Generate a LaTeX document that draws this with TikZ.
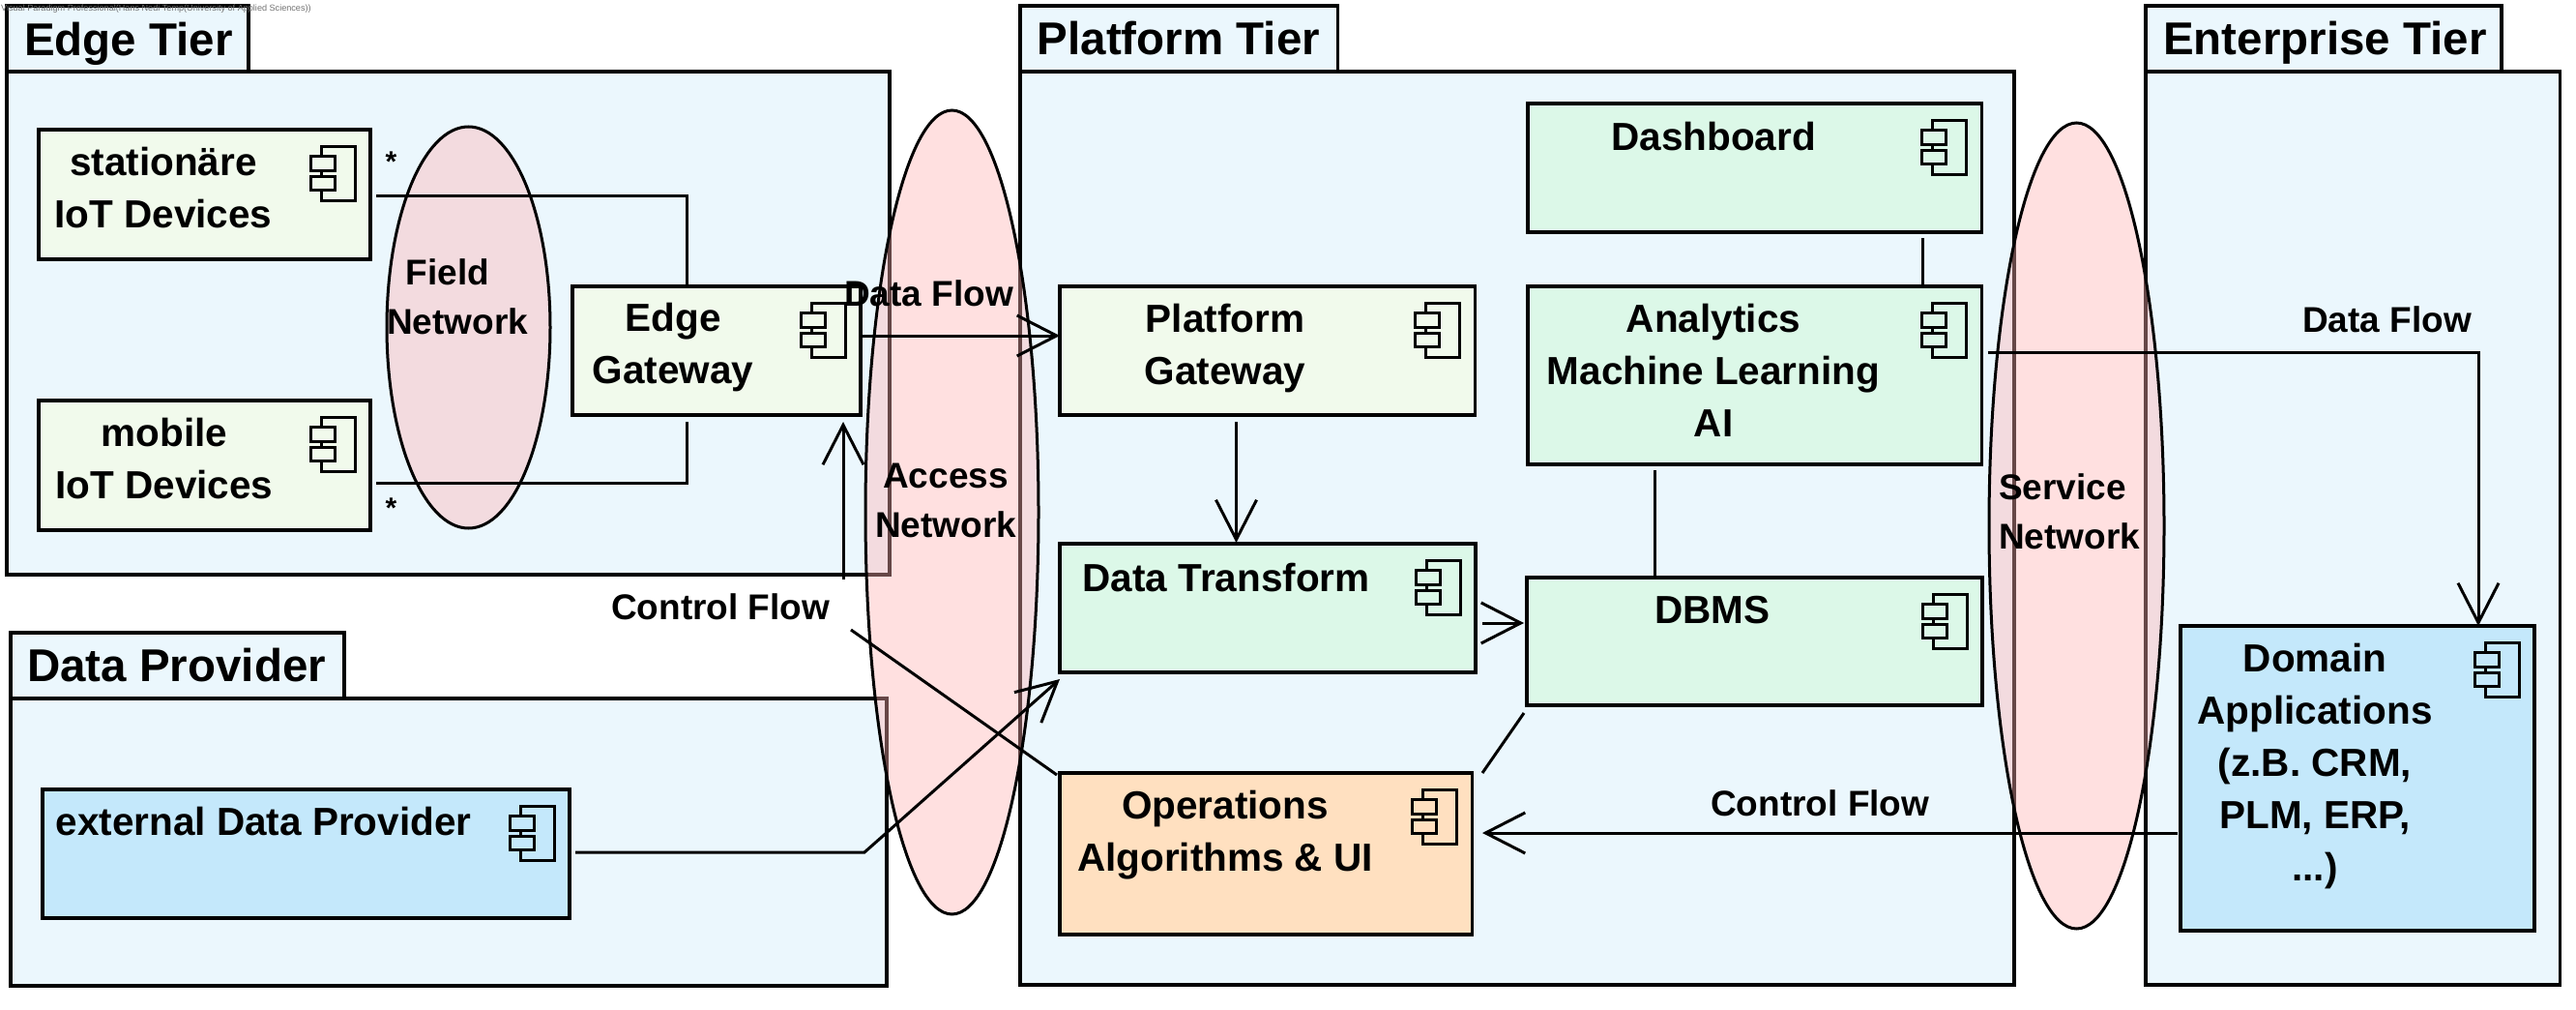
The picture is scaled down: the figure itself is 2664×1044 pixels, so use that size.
\documentclass[tikz,border=0pt]{standalone}
\usepackage{fontspec}
\setmainfont{Liberation Sans}
\usetikzlibrary{arrows.meta,shapes.geometric}
\definecolor{pkgfill}{HTML}{EBF7FD}
\definecolor{edgefill}{HTML}{F1FAEC}
\definecolor{greenfill}{HTML}{DCF8E8}
\definecolor{bluefill}{HTML}{C4E8FB}
\definecolor{orangefill}{HTML}{FFE0C0}
\definecolor{netfill}{RGB}{255,179,179}
\tikzset{
  x=1pt,y=-1pt,
  pkg/.style={draw=black,line width=3.5pt,fill=pkgfill,anchor=north west,inner sep=0pt,outer sep=0pt,minimum width=#1},
  pkg/.default=10pt,
  comp/.style={draw=black,line width=3.5pt,anchor=north west,inner sep=0pt,outer sep=0pt},
  net/.style={ellipse,draw=black,line width=3pt,fill=netfill,fill opacity=.4,draw opacity=1,inner sep=0pt,outer sep=0pt},
  ttl/.style={font=\fontsize{47.5}{54}\selectfont\bfseries,anchor=base west,inner sep=0pt},
  txt/.style={font=\fontsize{40.5}{54}\selectfont\bfseries,align=center,anchor=base,inner sep=0pt},
  lbl/.style={font=\fontsize{37}{51}\selectfont\bfseries,anchor=base west,inner sep=0pt},
  conn/.style={line width=3pt,line join=miter},
  flow/.style={conn,-{Straight Barb[length=41pt,width=42pt,line width=3pt]}},
  compicon/.pic={
    \draw[line width=3pt] (-51,27)--(-51,17)--(-16,17)--(-16,73)--(-51,73)--(-51,62)
      (-51,48)--(-51,42)
      (-62,27) rectangle (-37,42)
      (-62,48) rectangle (-37,62);
  }
}
\newcommand{\mkcomp}[6]{% name, fill, x0, y0, x1, y1
  \pgfmathsetmacro{\cw}{#5-#3}\pgfmathsetmacro{\ch}{#6-#4}
  \node[comp,fill=#2,minimum width=\cw pt,minimum height=\ch pt] (#1) at (#3,#4) {};
  \pic at (#1.north east) {compicon};
}
\newcommand{\mkpkg}[7]{% name, x0, tabright, top, bodytop, right, bottom
  \pgfmathsetmacro{\tw}{#3-#2}\pgfmathsetmacro{\th}{#5-#4}
  \pgfmathsetmacro{\bw}{#6-#2}\pgfmathsetmacro{\bh}{#7-#5}
  \node[pkg=\tw pt,minimum height=\th pt] (#1tab) at (#2,#4) {};
  \node[pkg=\bw pt,minimum height=\bh pt] (#1) at (#2,#5) {};
}
\begin{document}
\begin{tikzpicture}
\useasboundingbox (0,0) rectangle (2664,1044);
\fill[white] (0,0) rectangle (2664,1044);
% packages
\mkpkg{edgetier}{7}{257}{6}{74}{920}{594}
\mkpkg{dataprov}{11}{356}{654}{722}{917}{1019}
\mkpkg{platform}{1055}{1383.5}{6}{74}{2083}{1018}
\mkpkg{enterprise}{2219}{2587}{6}{74}{2647.5}{1018}
% networks
\node[net,minimum width=169pt,minimum height=415pt] (fieldnet) at (484.5,338.5) {};
\node[net,minimum width=179pt,minimum height=831pt] (accessnet) at (984.5,529.5) {};
\node[net,minimum width=181pt,minimum height=833pt] (servicenet) at (2147.5,543.5) {};
% components
\mkcomp{stat}{edgefill}{40}{134}{383}{268}
\mkcomp{mobile}{edgefill}{40}{414}{383}{548}
\mkcomp{edgegw}{edgefill}{592}{296}{890}{429}
\mkcomp{extprov}{bluefill}{44}{816}{589}{949}
\mkcomp{platgw}{edgefill}{1096}{296}{1525.5}{429}
\mkcomp{transform}{greenfill}{1096}{562}{1526}{695}
\mkcomp{ops}{orangefill}{1096}{799}{1522.5}{966}
\mkcomp{dash}{greenfill}{1580}{107}{2049.5}{240}
\mkcomp{analytics}{greenfill}{1580}{296}{2049.5}{480}
\mkcomp{dbms}{greenfill}{1579}{597}{2050}{729}
\mkcomp{domain}{bluefill}{2255}{647}{2621}{962}
% free ends of connectors
\coordinate (statout) at (389,202);
\coordinate (mobout) at (389,499);
\coordinate (ctrlstart) at (872,599);
\coordinate (ctrlend) at (872,436);
\coordinate (ctrlb1) at (880,651);
\coordinate (ctrlb2) at (1093,801);
\coordinate (extout) at (595,881);
\coordinate (extbend) at (894,881);
\coordinate (exttip) at (1096,702);
% connectors
\draw[conn] (statout) -| (710,294);
\draw[conn] (mobout) -| (710,436);
\draw[flow] (edgegw.east |- 0,347) -- (platgw.west |- 0,347);
\draw[flow] (ctrlstart) -- (ctrlend);
\draw[conn] (ctrlb1) -- (ctrlb2);
\draw[flow] (extout) -- (extbend) -- (exttip);
\draw[flow] (1278.5,436) -- (1278.5,561);
\draw[flow] (1533,644) -- (1576,644);
\draw[conn] (1988,246) -- (1988,294);
\draw[conn] (1711,486) -- (1711,597);
\draw[conn] (1576,737) -- (1533,799);
\draw[flow] (2055.7,364) -| (2563,647);
\draw[flow] (2252,861) -- (1533,861);
% titles
\node[ttl] (t1) at (25,57) {Edge Tier};
\node[ttl] (t2) at (28,704) {Data Provider};
\node[ttl] (t3) at (1072.6,56.5) {Platform Tier};
\node[ttl] (t4) at (2237,56.5) {Enterprise Tier};
% component texts
\node[txt] (tstat) at (169,235) {stationäre\\IoT Devices};
\node[txt] (tmob) at (170,515) {mobile\\IoT Devices};
\node[txt] (tegw) at (696,396.5) {Edge\\Gateway};
\node[txt] (text) at (272.5,863) {external Data Provider};
\node[txt] (tpgw) at (1267,397) {Platform\\Gateway};
\node[txt] (ttr) at (1268,611.5) {Data Transform};
\node[txt] (tops) at (1267,900) {Operations\\Algorithms \& UI};
\node[txt] (tdash) at (1772,155) {Dashboard};
\node[txt] (tana) at (1772,451.5) {Analytics\\Machine Learning\\AI};
\node[txt] (tdb) at (1771,644.5) {DBMS};
\node[txt] (tdom) at (2394,910) {Domain\\Applications\\(z.B. CRM,\\PLM, ERP,\\...)};
% network labels
\node[lbl,align=center,anchor=base] (lfield) at (473,345) {Field\hspace*{20pt}\\Network};
\node[lbl,align=center,anchor=base] (laccess) at (978,555) {Access\\Network};
\node[lbl,align=left,anchor=base west] (lservice) at (2067,567) {Service\\Network};
% flow labels
\node[lbl] (df1) at (873,316.5) {Data Flow};
\node[lbl] (cf1) at (632,640) {Control Flow};
\node[lbl] (df2) at (2381,343) {Data Flow};
\node[lbl] (cf2) at (1769,843) {Control Flow};
\node[font=\fontsize{30}{30}\selectfont\bfseries,anchor=base,inner sep=0pt] (s1) at (404.5,177) {*};
\node[font=\fontsize{30}{30}\selectfont\bfseries,anchor=base,inner sep=0pt] (s2) at (404.5,535) {*};
% watermark
\node[font=\fontsize{9.1}{10}\selectfont,text=black!55,anchor=base west,inner sep=0pt] (wm) at (1,11) {Visual Paradigm Professional(Hans Nedi Temp(University of Applied Sciences))};
\end{tikzpicture}
\end{document}
